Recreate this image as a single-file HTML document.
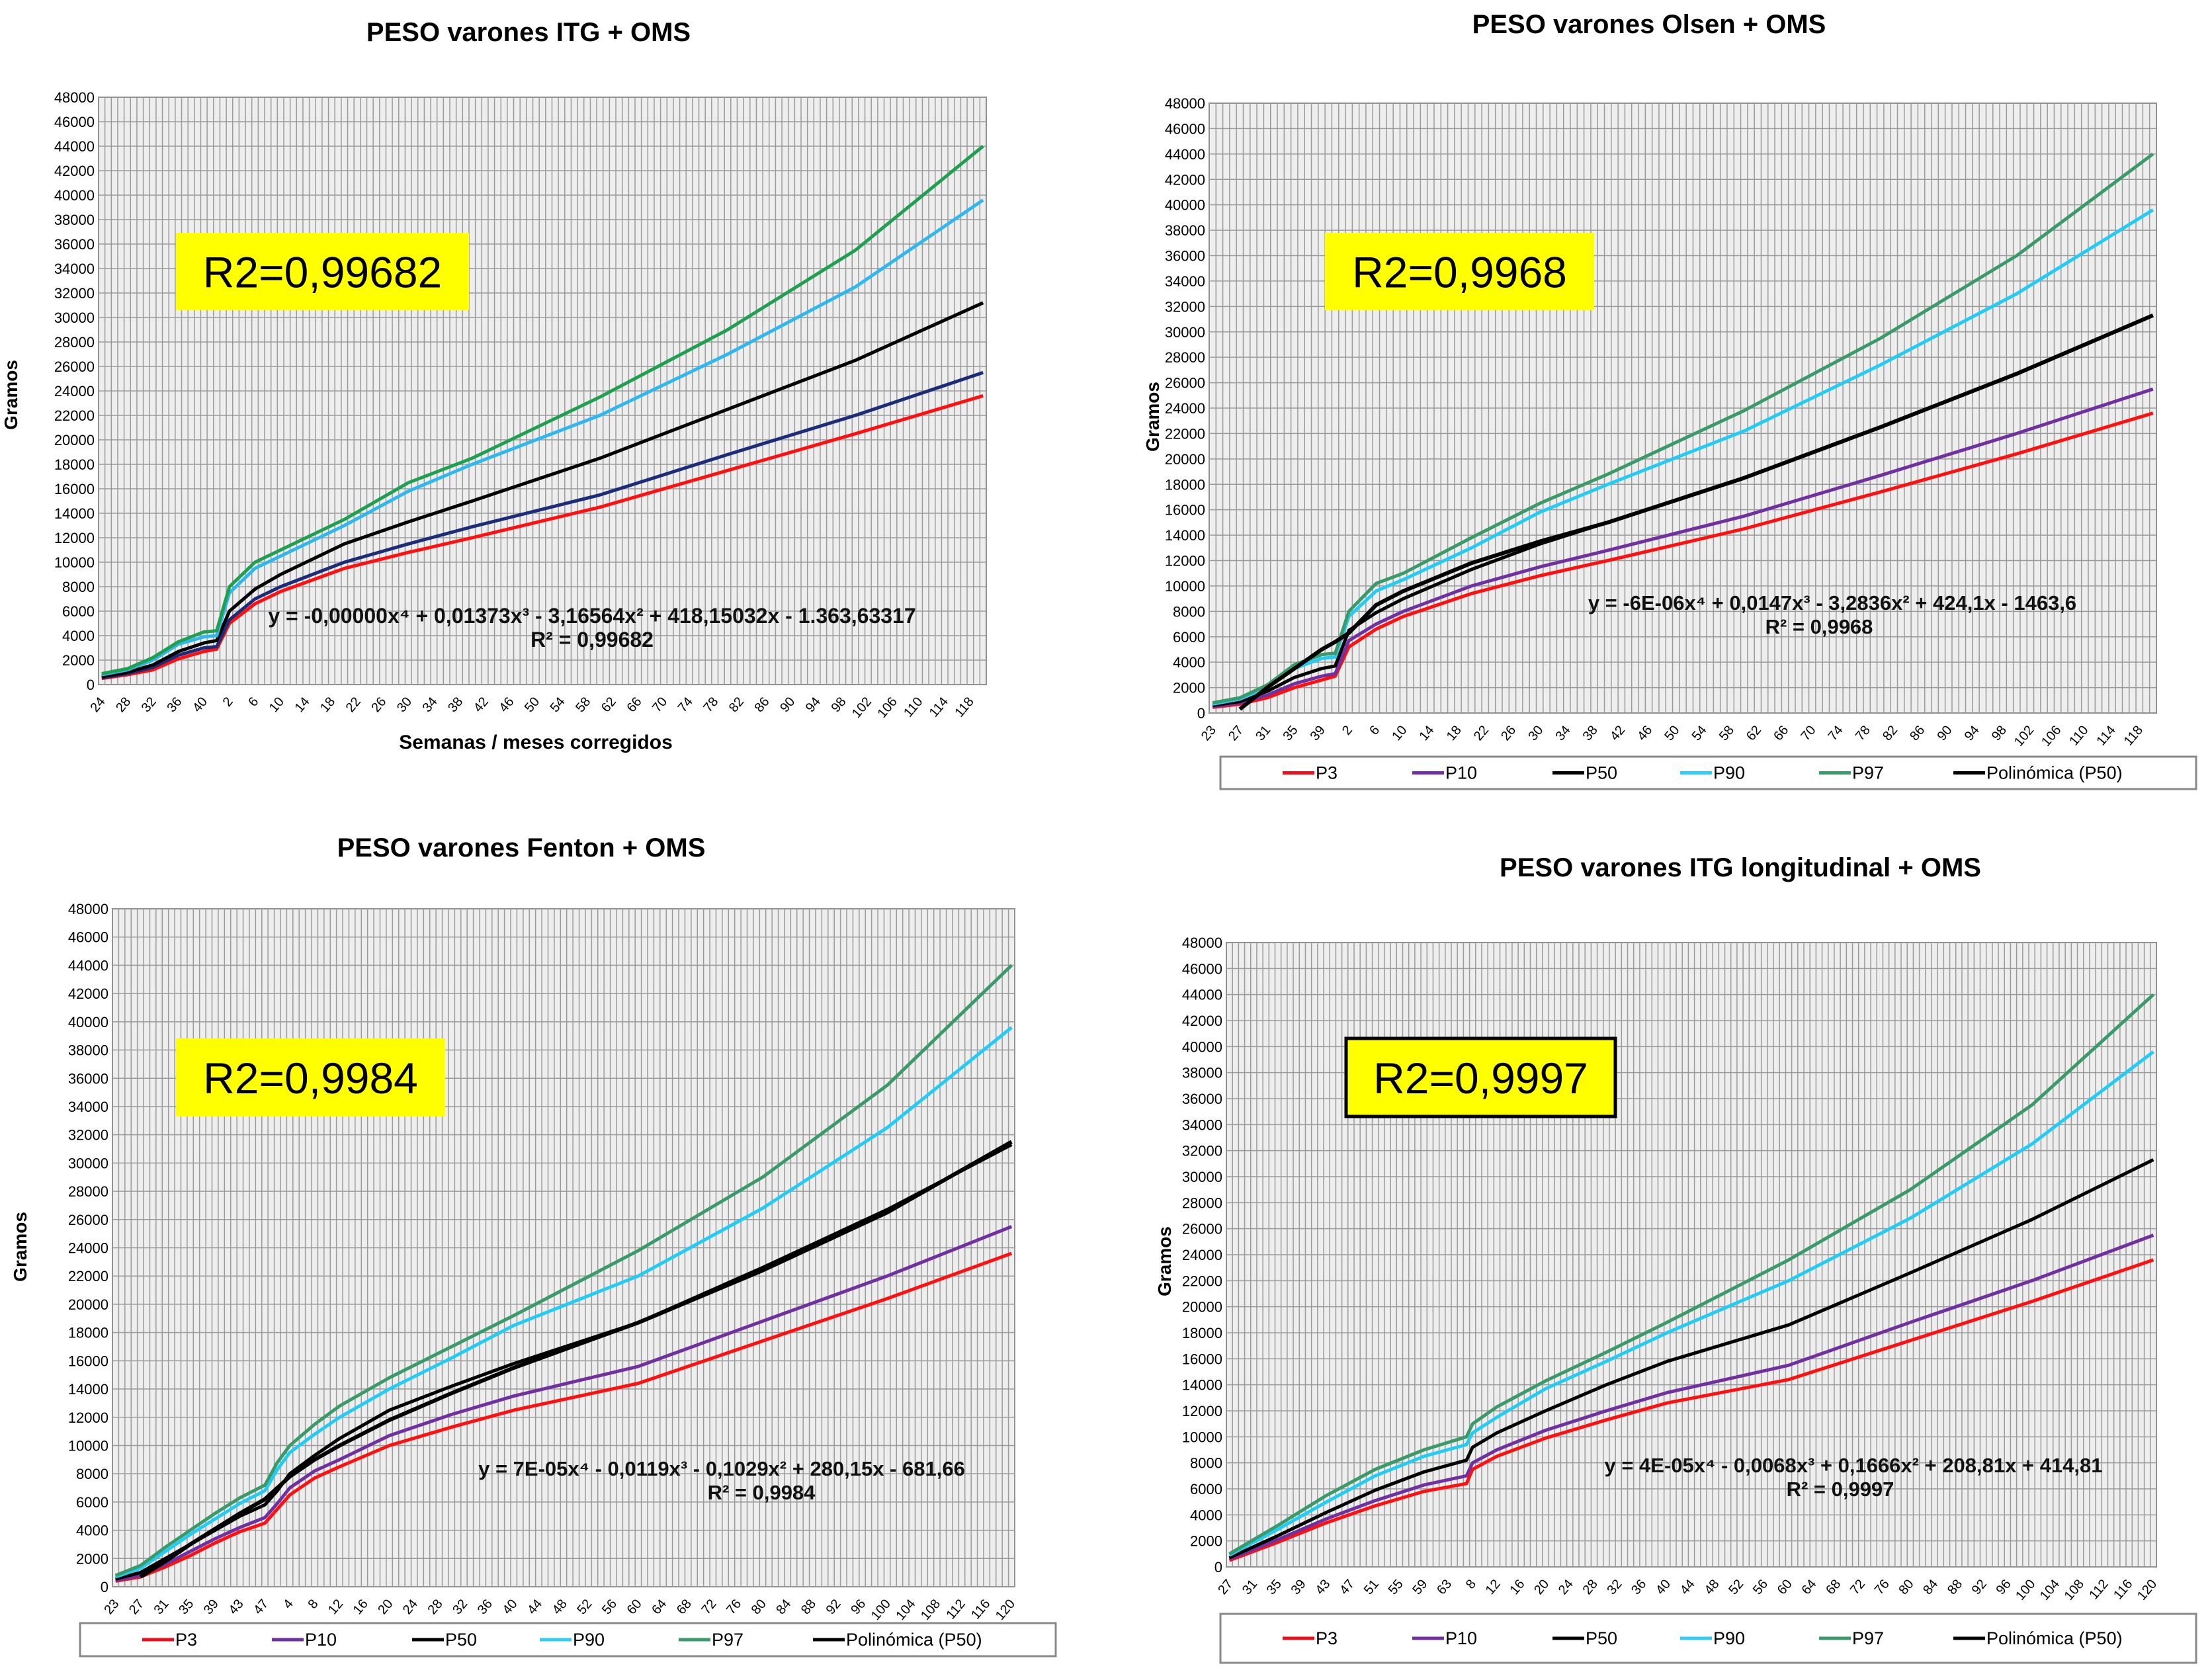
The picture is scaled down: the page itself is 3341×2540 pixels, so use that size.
<!DOCTYPE html>
<html><head><meta charset="utf-8"><style>
html,body{margin:0;padding:0;background:#fff}
svg{display:block;font-family:"Liberation Sans",Arial,sans-serif}
</style></head><body>
<svg id="root" width="3341" height="2540" viewBox="0 0 3341 2540" xmlns="http://www.w3.org/2000/svg"></svg>
<script>
// ---------- DATA ----------
const c1Weeks = [24, 42];
const c1Months = [1, 120];
const c1Keys = ["w24","w28","w32","w36","w40","w42","m2","m6","m10","m20","m30","m40","m60","m80","m100","m120"];
const c1P3  = [500,800,1200,2100,2700,2900,5000,6600,7600,9500,10800,12000,14500,17500,20500,23600];
const c1P10 = [550,900,1400,2400,3000,3100,5300,7000,8000,10000,11500,12900,15500,18800,22000,25500];
const c1P50 = [650,1000,1600,2700,3400,3600,6000,7800,9000,11500,13300,15000,18500,22500,26500,31200];
const c1P90 = [800,1200,2000,3300,3900,4000,7500,9500,10500,13000,15800,18000,22000,27000,32500,39600];
const c1P97 = [900,1300,2200,3500,4300,4400,8000,10000,11000,13500,16500,18500,23500,29000,35500,44000];

const c2Weeks = [23, 41];
const c2Months = [1, 120];
const c2Keys = ["w23","w27","w31","w35","w39","w41","m2","m6","m10","m20","m30","m40","m60","m80","m100","m120"];
const c2P3  = [450,700,1200,2000,2600,2900,5200,6600,7600,9400,10800,12000,14500,17400,20400,23600];
const c2P10 = [500,800,1400,2300,2900,3100,5700,7000,8000,10000,11500,12800,15500,18700,22000,25500];
const c2P50 = [600,900,1700,2800,3500,3700,6500,7900,9000,11300,13300,15000,18500,22500,26700,31300];
const c2P90 = [700,1100,2000,3500,4300,4400,7600,9600,10500,13000,15800,18000,22200,27400,33000,39600];
const c2P97 = [800,1200,2200,3800,4600,4700,8000,10200,11000,13800,16500,18800,23800,29500,36000,44000];
const c2Poly= [null,300,2000,3500,5000,5600,6300,8500,9600,11800,13500,15000,18500,22500,26700,31300];

const c3Weeks = [23, 47];
const c3Months = [1, 120];
const c3Keys = ["w23","w27","w31","w35","w39","w43","w47","m2","m4","m8","m12","m20","m30","m40","m60","m80","m100","m120"];
const c3P3  = [400,700,1400,2200,3100,3900,4500,5500,6500,7700,8500,10000,11300,12500,14400,17400,20400,23600];
const c3P10 = [450,800,1600,2500,3400,4200,4900,5900,7000,8200,9000,10700,12200,13500,15600,18800,22000,25500];
const c3P50 = [550,1000,2000,3000,4000,5000,5800,6800,8000,9300,10500,12500,14200,15800,18700,22600,26700,31300];
const c3P90 = [700,1300,2500,3700,4800,5900,6800,8300,9500,10800,12000,14000,16200,18500,22000,26800,32500,39600];
const c3P97 = [800,1500,2800,4000,5200,6300,7200,8800,10000,11500,12800,14800,17000,19200,23800,29000,35500,44000];
const c3Poly= [null,700,1800,3000,4100,5200,6200,7000,7800,9000,10000,11800,13700,15500,18700,22400,26500,31500];

const c4Weeks = [27, 66];
const c4Months = [8, 120];
const c4Keys = ["w27","w35","w43","w51","w59","w66","m8","m12","m20","m30","m40","m60","m80","m100","m120"];
const c4P3  = [500,1900,3400,4700,5800,6400,7500,8500,9900,11300,12600,14400,17400,20400,23600];
const c4P10 = [600,2100,3700,5100,6300,7000,8000,9000,10500,12000,13400,15500,18800,22000,25500];
const c4P50 = [700,2400,4200,5900,7300,8200,9200,10300,12000,14000,15800,18600,22600,26700,31300];
const c4P90 = [900,2900,5000,7000,8500,9400,10300,11500,13700,15800,18000,22000,26800,32500,39600];
const c4P97 = [1000,3200,5500,7500,9000,10000,11000,12300,14300,16500,18800,23600,29000,35500,44000];

const yTicks = [0,2000,4000,6000,8000,10000,12000,14000,16000,18000,20000,22000,24000,26000,28000,30000,32000,34000,36000,38000,40000,42000,44000,46000,48000];
const legendLabels = ["P3","P10","P50","P90","P97","Polinómica (P50)"];

// ---------- DRAW ----------
const NS = "http://www.w3.org/2000/svg";
const root = document.getElementById('root');
function mk(tag, attrs, parent){
  const e = document.createElementNS(NS, tag);
  for (const k in attrs) e.setAttribute(k, attrs[k]);
  (parent||root).appendChild(e);
  return e;
}
function txt(s, attrs, parent){ const t = mk('text', attrs, parent); t.textContent = s; return t; }

function drawChart(cfg){
  const g = mk('g', {});
  
  
  const cats = [];
  for (let w = cfg.weeks[0]; w <= cfg.weeks[1]; w++) cats.push("w"+w);
  for (let m = cfg.months[0]; m <= cfg.months[1]; m++) cats.push("m"+m);
  const n = cats.length;
  const L = cfg.plot[0], R = cfg.plot[1], T = cfg.plot[2], B = cfg.plot[3];
  const xScale = i => L + (i + 0.5) * (R - L) / n;
  const yScale = v => B - v / 48000 * (B - T);

  const t = txt(cfg.title, {x: cfg.titlePos[0], y: cfg.titlePos[1], 'font-size': 40, 'font-weight': 'bold', 'text-anchor': 'middle'}, g);
  
  

  mk('rect', {x: L, y: T, width: R - L, height: B - T, fill: '#eeeeee', stroke: '#777', 'stroke-width': 2}, g);
  const grid = mk('g', {stroke: '#9a9a9a', 'stroke-width': 1.5}, g);
  
  
  for (let i = 0; i <= n; i++) { const x = L + i * (R - L) / n; mk('line', {x1: x, x2: x, y1: T, y2: B}, grid); }
  for (const v of yTicks) { mk('line', {x1: L, x2: R, y1: yScale(v), y2: yScale(v)}, grid); }

  const yax = mk('g', {'font-size': 22, 'text-anchor': 'end'}, g);
  
  
  for (const v of yTicks) txt(String(v), {x: L - 6, y: yScale(v) + 8}, yax);
  const yt = txt('Gramos', {x: 0, y: 0, 'font-size': 28, 'font-weight': 'bold', 'text-anchor': 'middle', transform: `translate(${cfg.ylabel[0]},${cfg.ylabel[1]}) rotate(-90)`}, g);
  
  

  const xax = mk('g', {'font-size': 20, 'text-anchor': 'end'}, g);
  
  
  for (let i = 0; i < n; i += 4) {
    const lab = cats[i].slice(1);
    const x = xScale(i), y = B + 14;
    txt(lab, {x: 0, y: 0, transform: `translate(${x + 6},${y + 12}) rotate(-50)`}, xax);
  }
  if (cfg.xlabel) {
    const xt = txt(cfg.xlabel, {x: cfg.xlabelPos[0], y: cfg.xlabelPos[1], 'font-size': 30, 'font-weight': 'bold', 'text-anchor': 'middle'}, g);
    
    
  }

  cfg.series.forEach(s => {
    const pts = [];
    cfg.keys.forEach((k, j) => {
      const v = s.vals[j];
      if (v === null || v === undefined) return;
      const i = cats.indexOf(k);
      pts.push(xScale(i).toFixed(1) + ',' + yScale(v).toFixed(1));
    });
    const p = mk('polyline', {points: pts.join(' '), fill: 'none', stroke: s.color, 'stroke-width': s.w || 5, 'stroke-linejoin': 'round'}, g);
    
    
  });

  const rb = cfg.r2box;
  const box = mk('g', {}, g);
  
  
  mk('rect', {x: rb[0], y: rb[1], width: rb[2] - rb[0], height: rb[3] - rb[1], fill: '#ffff00', stroke: cfg.r2border ? '#000' : 'none', 'stroke-width': 5}, box);
  txt(cfg.r2, {x: (rb[0] + rb[2]) / 2, y: (rb[1] + rb[3]) / 2 + 24, 'font-size': 66, 'text-anchor': 'middle'}, box);

  const eq = mk('g', {'font-size': cfg.eqSize || 31, 'font-weight': 'bold', 'text-anchor': 'middle', fill: '#111'}, g);
  
  
  txt(cfg.eq, {x: cfg.eqPos[0], y: cfg.eqPos[1]}, eq);
  txt(cfg.r2eq, {x: cfg.eqPos[0] + cfg.r2dx, y: cfg.eqPos[1] + 36}, eq);

  if (cfg.legend) {
    const lg = cfg.legend;
    const leg = mk('g', {}, g);
    
    
    mk('rect', {x: lg[0], y: lg[1], width: lg[2] - lg[0], height: lg[3] - lg[1], fill: '#fff', stroke: '#888', 'stroke-width': 3}, leg);
    const cols = ['#e8101c', '#7030a0', '#000', '#33ccf5', '#3a9a6a', '#000'];
    const offs = [94, 290, 502, 695, 905, 1108];
    legendLabels.forEach((lab, i) => {
      const x = lg[0] + offs[i] * (lg[2] - lg[0]) / 1475;
      const cy = (lg[1] + lg[3]) / 2;
      const e = mk('g', {}, leg);
      
      
      mk('line', {x1: x, x2: x + 48, y1: cy, y2: cy, stroke: cols[i], 'stroke-width': 5}, e);
      txt(lab, {x: x + 50, y: cy + 9, 'font-size': 27}, e);
    });
  }
}

const tlColors = {p3: '#ff1010', p10: '#1c2c78', p50: '#000', p90: '#2fb8f0', p97: '#1fa050'};
const col = {p3: '#ff1010', p10: '#7030a0', p50: '#000', p90: '#22ccf5', p97: '#3a9a6a'};

drawChart({name: 'chart-itg', title: 'PESO varones ITG + OMS', titlePos: [799, 62], weeks: c1Weeks, months: c1Months, keys: c1Keys,
  plot: [149, 1491, 147, 1035], ylabel: [26, 597], xlabel: 'Semanas / meses corregidos', xlabelPos: [810, 1132],
  series: [{name: 'P3', vals: c1P3, color: tlColors.p3}, {name: 'P10', vals: c1P10, color: tlColors.p10}, {name: 'P50', vals: c1P50, color: tlColors.p50},
    {name: 'P90', vals: c1P90, color: tlColors.p90}, {name: 'P97', vals: c1P97, color: tlColors.p97}],
  r2box: [266, 352, 709, 469], r2: 'R2=0,99682', eq: 'y = -0,00000x⁴ + 0,01373x³ - 3,16564x² + 418,15032x - 1.363,63317', eqPos: [895, 942], r2eq: 'R² = 0,99682', r2dx: 0, eqSize: 32});

drawChart({name: 'chart-olsen', title: 'PESO varones Olsen + OMS', titlePos: [2493, 50], weeks: c2Weeks, months: c2Months, keys: c2Keys,
  plot: [1828, 3260, 156, 1078], ylabel: [1752, 630],
  series: [{name: 'P3', vals: c2P3, color: col.p3}, {name: 'P10', vals: c2P10, color: col.p10}, {name: 'P50', vals: c2P50, color: col.p50},
    {name: 'P90', vals: c2P90, color: col.p90}, {name: 'P97', vals: c2P97, color: col.p97}, {name: 'Poly', vals: c2Poly, color: '#000', w: 6}],
  r2box: [2003, 352, 2410, 469], r2: 'R2=0,9968', eq: 'y = -6E-06x⁴ + 0,0147x³ - 3,2836x² + 424,1x - 1463,6', eqPos: [2770, 922], r2eq: 'R² = 0,9968', r2dx: -20,
  legend: [1845, 1144, 3320, 1193]});

drawChart({name: 'chart-fenton', title: 'PESO varones Fenton + OMS', titlePos: [788, 1295], weeks: c3Weeks, months: c3Months, keys: c3Keys,
  plot: [170, 1534, 1374, 2399], ylabel: [40, 1885],
  series: [{name: 'P3', vals: c3P3, color: col.p3}, {name: 'P10', vals: c3P10, color: col.p10}, {name: 'P50', vals: c3P50, color: col.p50},
    {name: 'P90', vals: c3P90, color: col.p90}, {name: 'P97', vals: c3P97, color: col.p97}, {name: 'Poly', vals: c3Poly, color: '#000', w: 6}],
  r2box: [266, 1570, 673, 1688], r2: 'R2=0,9984', eq: 'y = 7E-05x⁴ - 0,0119x³ - 0,1029x² + 280,15x - 681,66', eqPos: [1091, 2231], r2eq: 'R² = 0,9984', r2dx: 60,
  legend: [121, 2454, 1596, 2504]});

drawChart({name: 'chart-itg-longitudinal', title: 'PESO varones ITG longitudinal + OMS', titlePos: [2631, 1325], weeks: c4Weeks, months: c4Months, keys: c4Keys,
  plot: [1854, 3260, 1425, 2369], ylabel: [1770, 1907],
  series: [{name: 'P3', vals: c4P3, color: col.p3}, {name: 'P10', vals: c4P10, color: col.p10}, {name: 'P50', vals: c4P50, color: col.p50},
    {name: 'P90', vals: c4P90, color: col.p90}, {name: 'P97', vals: c4P97, color: col.p97}],
  r2box: [2035, 1570, 2442, 1688], r2border: true, r2: 'R2=0,9997', eq: 'y = 4E-05x⁴ - 0,0068x³ + 0,1666x² + 208,81x + 414,81', eqPos: [2802, 2226], r2eq: 'R² = 0,9997', r2dx: -20,
  legend: [1845, 2440, 3320, 2514]});
</script>
</body></html>
